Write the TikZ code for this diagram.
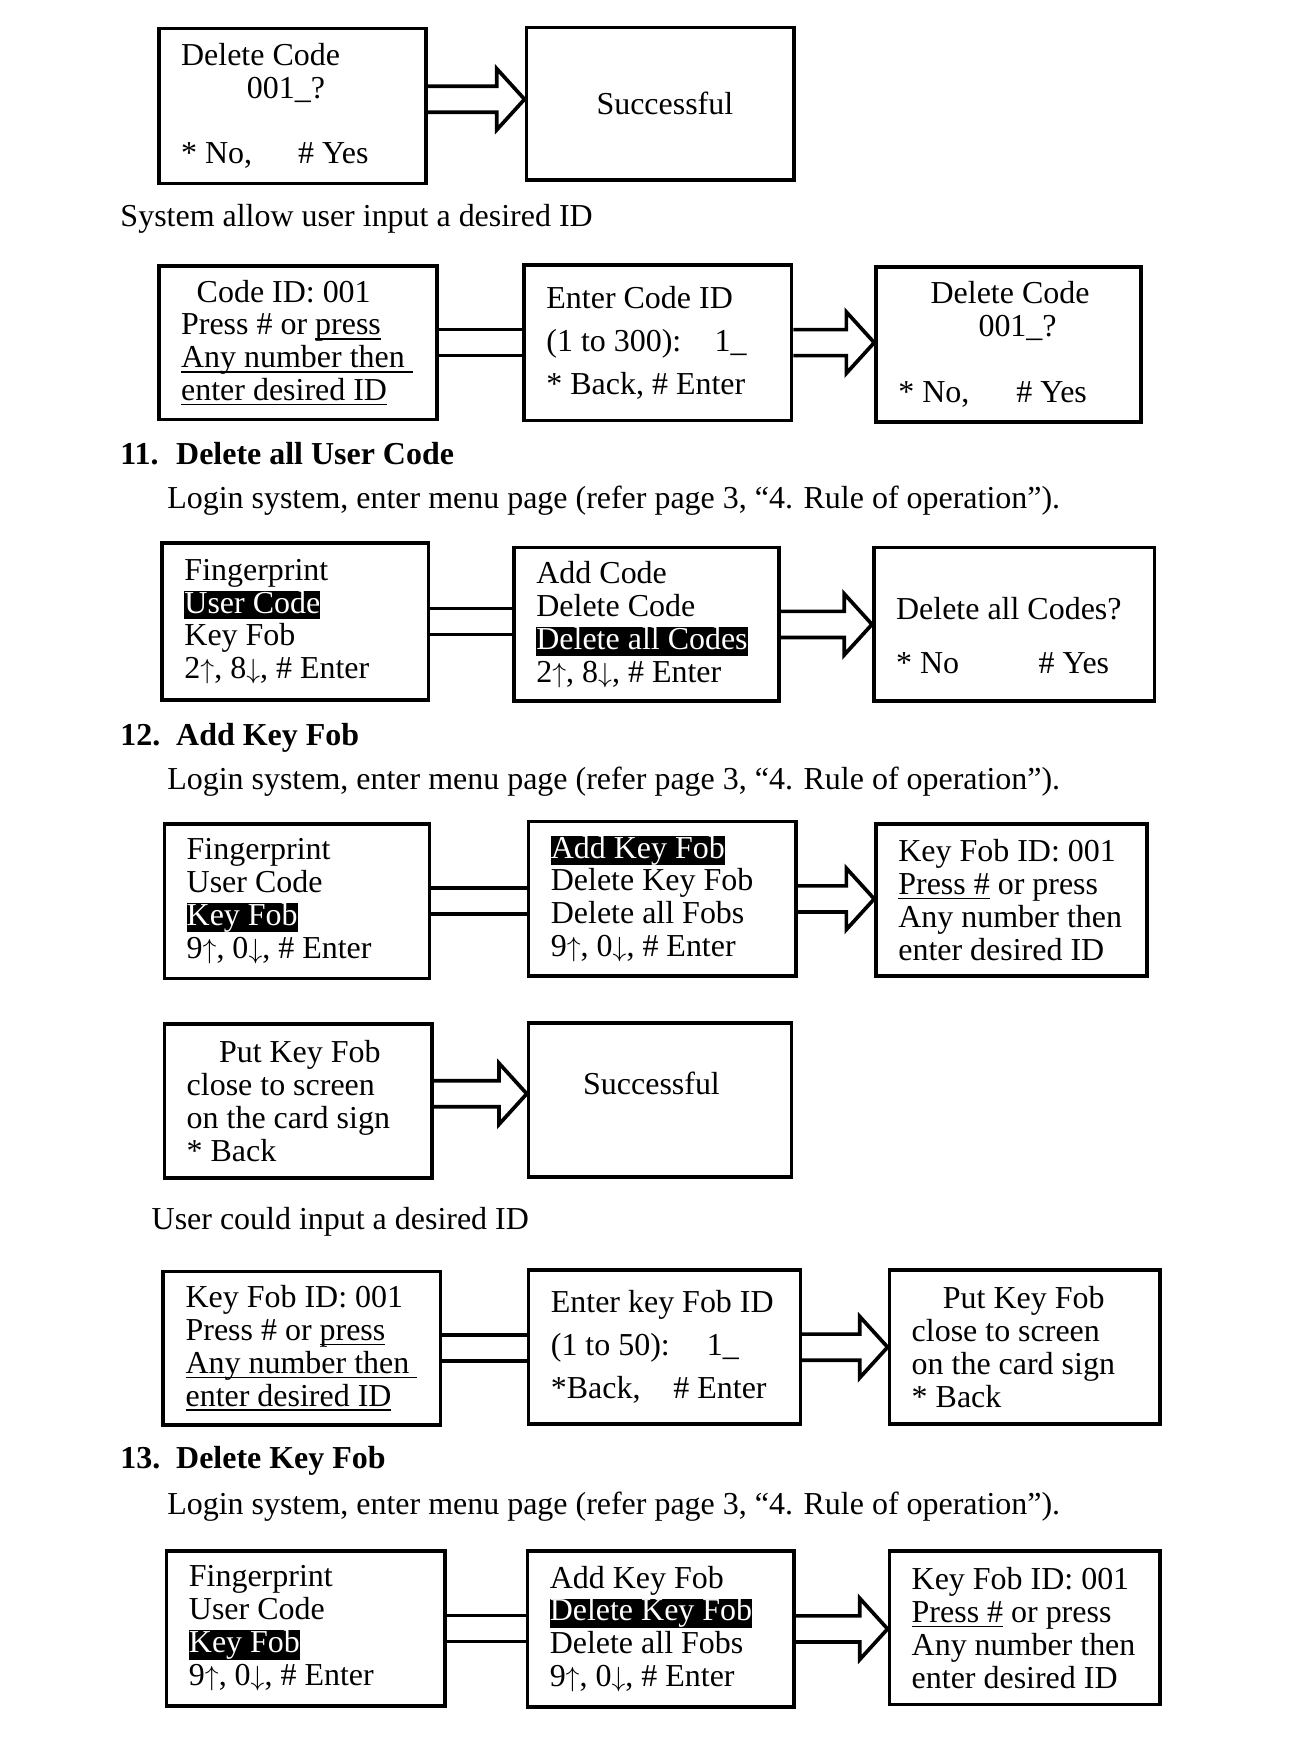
\documentclass[tikz,border=0pt]{standalone}
\usepackage{fontspec}
\setmainfont{Liberation Serif}
\usetikzlibrary{calc}
\newcommand\hlt[1]{{\setlength\fboxsep{0pt}\colorbox{black}{\color{white}\rule[-0.2em]{0pt}{0.9em}#1}}}
\newcommand\uln[1]{\leavevmode\setbox0\hbox{#1}\rlap{\rule[-0.15em]{\wd0}{0.05em}}\box0\relax}
\newcommand\keysup[2]{#1$\uparrow$, #2$\downarrow$, \# Enter}

\begin{document}
\begin{tikzpicture}[x=1pt,y=-1pt]
        \tikzstyle{every node}=[font=\fontsize{28.7}{29.5}\selectfont]
        \tikzstyle{screen}=[draw, line width=3.3pt, anchor=north west, inner xsep=20pt, inner ysep=0pt, align=flush left, minimum height=139pt]
        \tikzstyle{note}=[anchor=base west, inner sep=0pt]
        \tikzstyle{twin}=[line width=3.3pt, double, double distance=20pt]
        \tikzstyle{fat}=[line width=3.3pt, to path={let \p1=(\tikztostart), \p2=(\tikztotarget) in
          (\x1,\y1+11.7pt) -- (\x2-25pt,\y1+11.7pt) -- (\x2-25pt,\y1+27.5pt) -- (\x2,\y1)
          -- (\x2-25pt,\y1-27.5pt) -- (\x2-25pt,\y1-11.7pt) -- (\x1,\y1-11.7pt)}]
        \useasboundingbox (0,0) rectangle (1160,1566);

        \node[screen, text width=200pt] (delcode) at (141,24) {Delete Code\\ \hspace*{59pt}001\_?\\ \mbox{}\\ \makebox[105pt][l]{* No,}\# Yes};
        \node[screen, text width=200pt, minimum height=137pt] (done) at (471,23) {\hspace*{43pt}Successful};
        \node[note] (sysnote) at (108,203) {System allow user input a desired ID};

        \node[screen, text width=210pt, minimum height=138pt] (codeid) at (141,237) {\hspace*{14pt}Code ID: 001\\ Press \# or \uln{press}\\ \uln{Any number then\ }\\ \uln{enter desired ID}};
        \node[screen, text width=200pt, minimum height=140pt] (entercode) at (469,236) {Enter Code ID\\[9pt] \makebox[151pt][l]{(1 to 300):}1\_\\[9pt] {*} Back, \# Enter};
        \node[screen, text width=198pt] (delcodeB) at (785,238) {\hspace*{29pt}Delete Code\\ \hspace*{72pt}001\_?\\ \mbox{}\\ \makebox[106pt][l]{* No,}\# Yes};

        \node[note] (h11) at (108,417) {\textbf{\makebox[50pt][l]{11.}Delete all User Code}};
        \node[note] (login11) at (150,457) {Login system, enter menu page (refer page 3, “4. Rule of operation”).};

        \node[screen, text width=199pt, minimum height=141pt] (menuF) at (144,486) {Fingerprint\\ \hlt{User Code}\\ Key Fob\\ \keysup{2}{8}};
        \node[screen, text width=198pt, minimum height=138pt] (menuG) at (460,490) {Add Code\\ Delete Code\\ \hlt{Delete all Codes}\\ \keysup{2}{8}};
        \node[screen, text width=212pt, minimum height=138pt] (delall) at (783,490) {\rule{0pt}{39.6pt}Delete all Codes?\\[18.5pt] \makebox[128pt][l]{* No}\# Yes};

        \node[note] (h12) at (108,669) {\textbf{\makebox[50pt][l]{12.}Add Key Fob}};
        \node[note] (login12) at (150,709) {Login system, enter menu page (refer page 3, “4. Rule of operation”).};

        \node[screen, text width=198pt] (menuI) at (146,738) {Fingerprint\\ User Code\\ \hlt{Key Fob}\\ \keysup{9}{0}};
        \node[screen, text width=200pt] (menuJ) at (473,736) {\hlt{Add Key Fob}\\ Delete Key Fob\\ Delete all Fobs\\ \keysup{9}{0}};
        \node[screen, text width=203pt, minimum height=137pt] (fobid) at (785,738) {Key Fob ID: 001\\ \uln{Press \#} or press\\ Any number then\\ enter desired ID};

        \node[screen, text width=200pt, minimum height=138pt] (putfob) at (146,918) {\hspace*{29pt}Put Key Fob\\ close to screen\\ on the card sign\\ {*} Back};
        \node[screen, text width=196pt, minimum height=138pt] (doneB) at (473,917) {\hspace*{29pt}Successful\\ \mbox{}};
        \node[note] (usernote) at (136,1104) {User could input a desired ID};

        \node[screen, text width=209pt, minimum height=138pt] (fobidB) at (145,1140) {Key Fob ID: 001\\ Press \# or \uln{press}\\ \uln{Any number then\ }\\ \uln{enter desired ID}};
        \node[screen, text width=204pt, minimum height=138pt] (enterfob) at (473,1139) {Enter key Fob ID\\[9pt] \makebox[140pt][l]{(1 to 50):}1\_\\[9pt] \makebox[110pt][l]{*Back,}\# Enter};
        \node[screen, text width=203pt, minimum height=138pt] (putfobB) at (797,1139) {\hspace*{28pt}Put Key Fob\\ close to screen\\ on the card sign\\ {*} Back};

        \node[note] (h13) at (108,1319) {\textbf{\makebox[50pt][l]{13.}Delete Key Fob}};
        \node[note] (login13) at (150,1360) {Login system, enter menu page (refer page 3, “4. Rule of operation”).};

        \node[screen, text width=210pt] (menuQ) at (148,1391) {Fingerprint\\ User Code\\ \hlt{Key Fob}\\ \keysup{9}{0}};
        \node[screen, text width=199pt, minimum height=140pt] (menuR) at (472,1391) {Add Key Fob\\ \hlt{Delete Key Fob}\\ Delete all Fobs\\ \keysup{9}{0}};
        \node[screen, text width=203pt, minimum height=138pt] (fobidC) at (797,1391) {Key Fob ID: 001\\ \uln{Press \#} or press\\ Any number then\\ enter desired ID};

        \draw[fat] ([yshift=6pt]delcode.east) to (done.west);
        \draw[twin] (codeid.east) -- (codeid.east -| entercode.west);
        \draw[fat] (entercode.east) to (delcodeB.west);
        \draw[twin] (menuF.east) -- (menuF.east -| menuG.west);
        \draw[fat] (menuG.east) to (delall.west);
        \draw[twin] (menuI.east) -- (menuI.east -| menuJ.west);
        \draw[fat] (menuJ.east) to (fobid.west);
        \draw[fat] ([yshift=6.5pt]putfob.east) to (doneB.west);
        \draw[twin] (fobidB.east) -- (fobidB.east -| enterfob.west);
        \draw[fat] (enterfob.east) to (putfobB.west);
        \draw[twin] (menuQ.east) -- (menuQ.east -| menuR.west);
        \draw[fat] (menuR.east) to (fobidC.west);
\end{tikzpicture}
\end{document}
